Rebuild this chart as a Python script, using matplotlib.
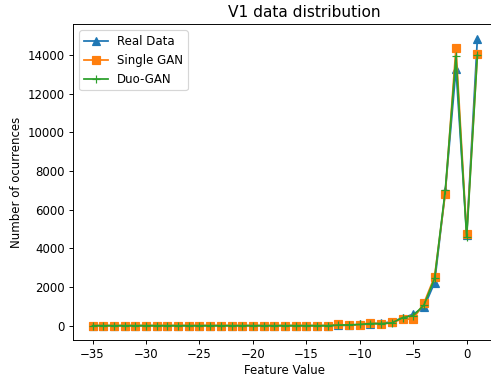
import numpy as np
import matplotlib
matplotlib.use("Agg")
import matplotlib.pyplot as plt

# feature values -35 .. 1
feature_values = list(range(-35, 2))

# counts per feature value (tail from -35 to -13 is empty)
zeros = [0] * 23
real_data = zeros + [10, 20, 60, 80, 120, 200, 400, 590, 940, 2230, 6950, 13290, 4700, 14850]
single_gan = zeros + [60, 20, 40, 160, 60, 170, 340, 340, 1160, 2540, 6830, 14380, 4730, 14030]
duo_gan = zeros + [30, 40, 60, 110, 110, 140, 410, 520, 1060, 2450, 7000, 13950, 4570, 14000]

DPI = 85
fig = plt.figure(figsize=(491 / DPI, 376 / DPI), dpi=DPI)
# axes run a bit past the right edge of the figure
ax = fig.add_axes([73.3 / 491, 36 / 376, 423.3 / 491, 315.7 / 376])

ax.plot(feature_values, real_data, marker="^", label="Real Data")
ax.plot(feature_values, single_gan, marker="s", label="Single GAN")
ax.plot(feature_values, duo_gan, marker="+", label="Duo-GAN")

ax.set_title("V1 data distribution", fontsize=13, x=0.545)
ax.set_xlabel("Feature Value", labelpad=2)
ax.set_ylabel("Number of ocurrences")
ax.legend(loc="upper left")

fig.savefig("out.png", dpi=DPI)
plt.close(fig)
